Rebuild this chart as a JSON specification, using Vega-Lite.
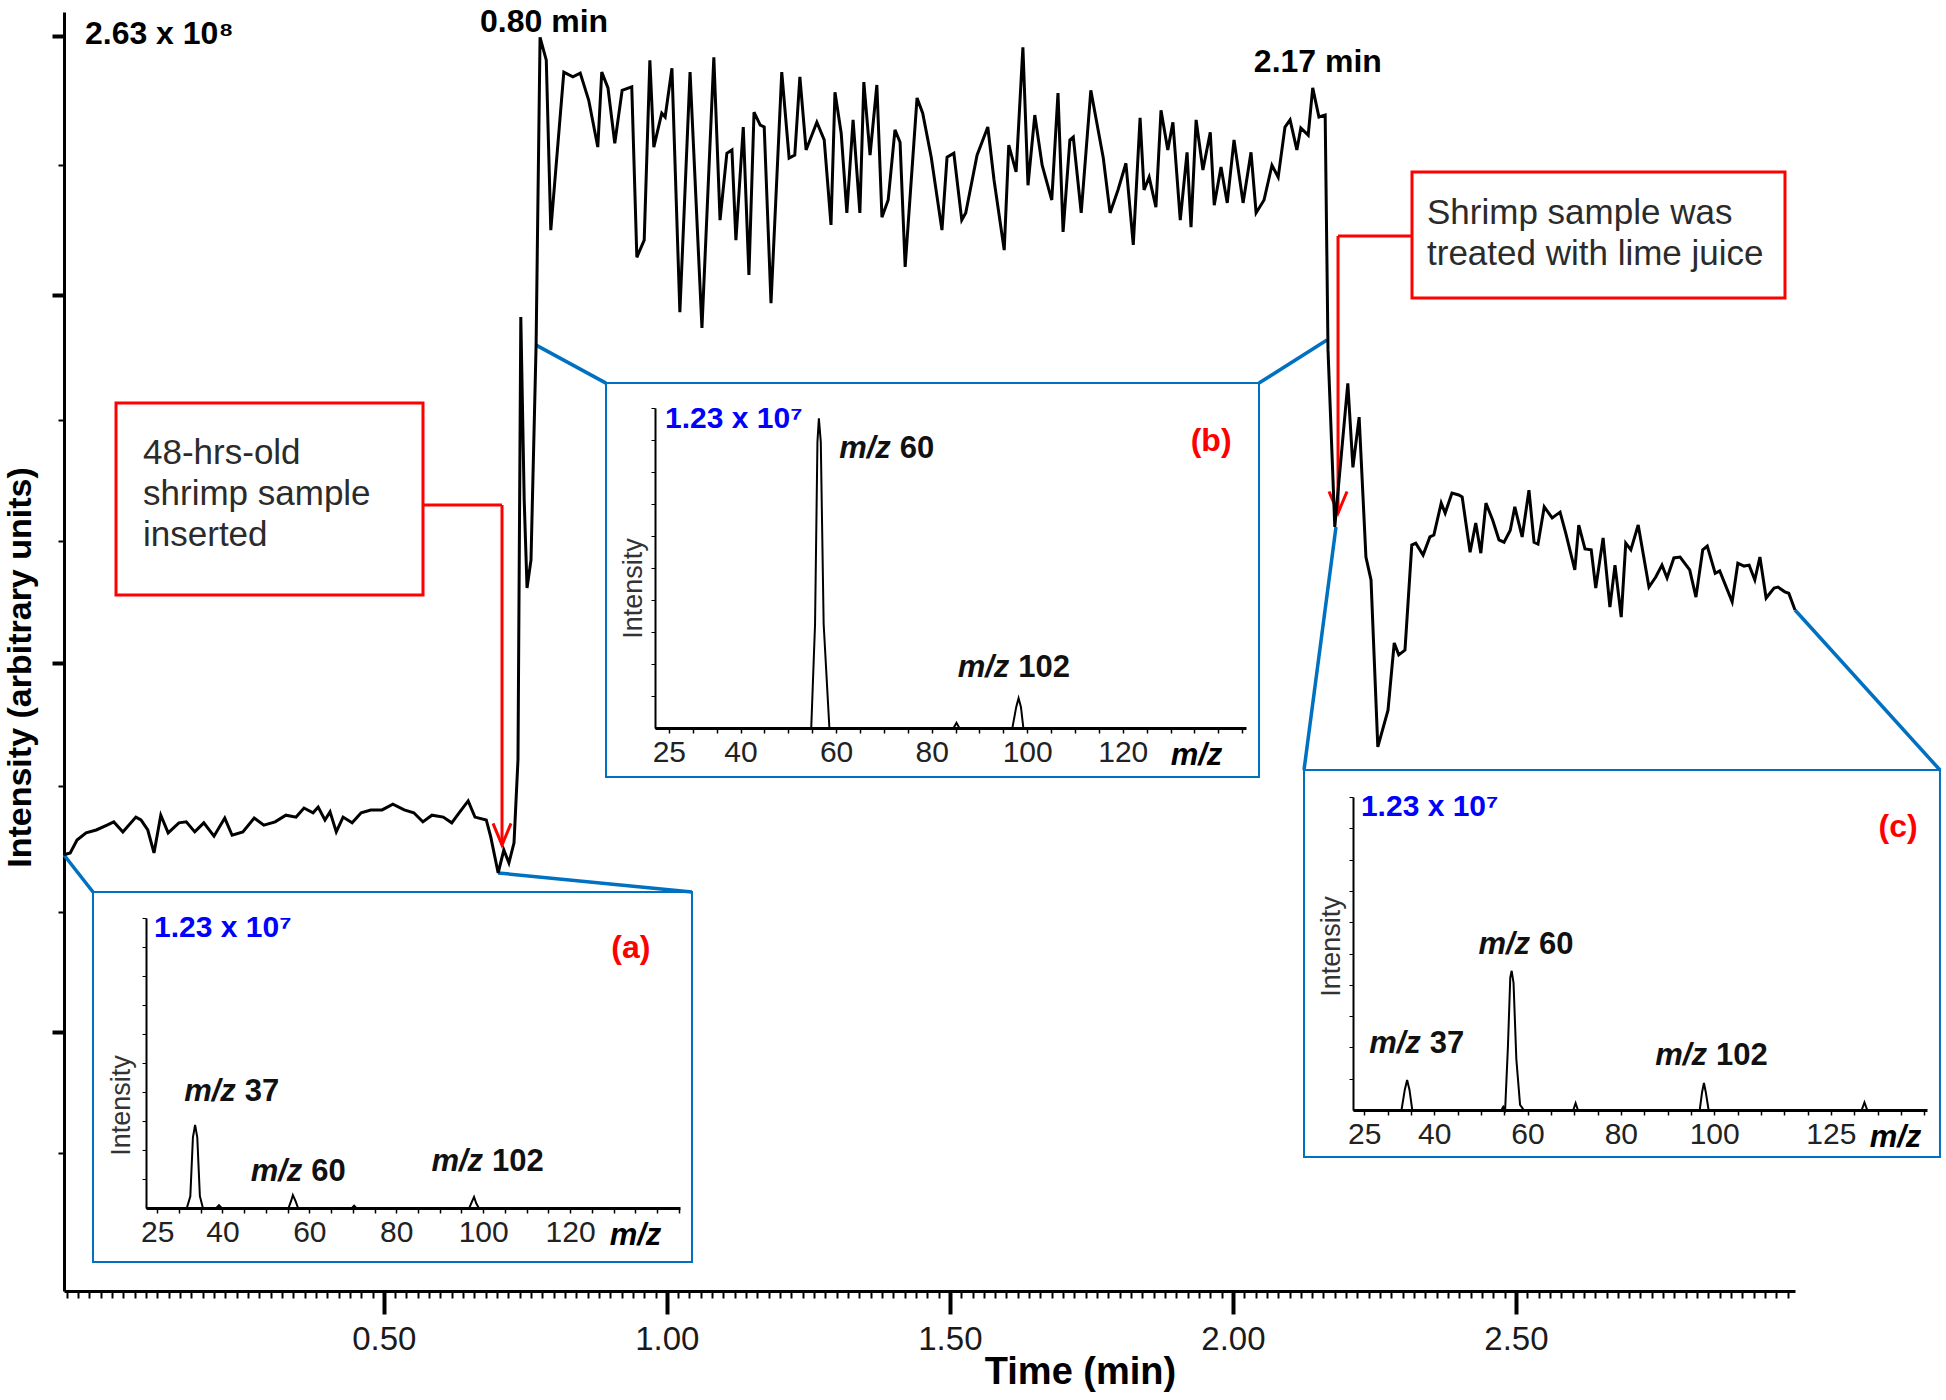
{
  "$schema": "https://vega.github.io/schema/vega-lite/v6.json",
  "width": 1731,
  "height": 1279,
  "autosize": "none",
  "padding": {"left": 64, "top": 12, "right": 151, "bottom": 109},
  "background": "white",
  "config": {"view": {"stroke": null}, "font": "Liberation Sans", "axis": {"grid": false}},
  "datasets": {
    "chromatogram": [
      {"time": -0.065, "intensity": 0.914}, {"time": -0.054, "intensity": 0.918}, {"time": -0.042, "intensity": 0.945},
      {"time": -0.026, "intensity": 0.960}, {"time": -0.008, "intensity": 0.966}, {"time": 0.011, "intensity": 0.976},
      {"time": 0.023, "intensity": 0.983}, {"time": 0.039, "intensity": 0.962}, {"time": 0.062, "intensity": 0.993},
      {"time": 0.071, "intensity": 0.987}, {"time": 0.083, "intensity": 0.966}, {"time": 0.094, "intensity": 0.918},
      {"time": 0.106, "intensity": 0.997}, {"time": 0.119, "intensity": 0.960}, {"time": 0.138, "intensity": 0.981},
      {"time": 0.151, "intensity": 0.983}, {"time": 0.166, "intensity": 0.962}, {"time": 0.182, "intensity": 0.981},
      {"time": 0.200, "intensity": 0.953}, {"time": 0.219, "intensity": 0.991}, {"time": 0.232, "intensity": 0.955},
      {"time": 0.251, "intensity": 0.962}, {"time": 0.271, "intensity": 0.991}, {"time": 0.288, "intensity": 0.976},
      {"time": 0.308, "intensity": 0.983}, {"time": 0.327, "intensity": 0.997}, {"time": 0.345, "intensity": 0.993},
      {"time": 0.359, "intensity": 1.012}, {"time": 0.375, "intensity": 1.002}, {"time": 0.384, "intensity": 1.014},
      {"time": 0.396, "intensity": 0.987}, {"time": 0.405, "intensity": 1.004}, {"time": 0.416, "intensity": 0.962},
      {"time": 0.428, "intensity": 0.993}, {"time": 0.444, "intensity": 0.981}, {"time": 0.460, "intensity": 1.002},
      {"time": 0.477, "intensity": 1.008}, {"time": 0.497, "intensity": 1.008}, {"time": 0.516, "intensity": 1.020},
      {"time": 0.536, "intensity": 1.008}, {"time": 0.553, "intensity": 1.002}, {"time": 0.569, "intensity": 0.983},
      {"time": 0.585, "intensity": 0.997}, {"time": 0.605, "intensity": 0.993}, {"time": 0.620, "intensity": 0.981},
      {"time": 0.633, "intensity": 1.002}, {"time": 0.649, "intensity": 1.027}, {"time": 0.661, "intensity": 0.993},
      {"time": 0.681, "intensity": 0.987}, {"time": 0.689, "intensity": 0.951}, {"time": 0.702, "intensity": 0.876},
      {"time": 0.712, "intensity": 0.924}, {"time": 0.721, "intensity": 0.897}, {"time": 0.730, "intensity": 0.939},
      {"time": 0.737, "intensity": 1.113}, {"time": 0.742, "intensity": 2.041}, {"time": 0.748, "intensity": 1.657},
      {"time": 0.753, "intensity": 1.473}, {"time": 0.760, "intensity": 1.532}, {"time": 0.769, "intensity": 1.982},
      {"time": 0.776, "intensity": 2.627}, {"time": 0.787, "intensity": 2.579}, {"time": 0.795, "intensity": 2.223},
      {"time": 0.818, "intensity": 2.554}, {"time": 0.834, "intensity": 2.544}, {"time": 0.847, "intensity": 2.552},
      {"time": 0.862, "intensity": 2.495}, {"time": 0.878, "intensity": 2.397}, {"time": 0.885, "intensity": 2.554},
      {"time": 0.896, "intensity": 2.521}, {"time": 0.908, "intensity": 2.405}, {"time": 0.921, "intensity": 2.516},
      {"time": 0.938, "intensity": 2.523}, {"time": 0.947, "intensity": 2.166}, {"time": 0.960, "intensity": 2.202},
      {"time": 0.970, "intensity": 2.579}, {"time": 0.977, "intensity": 2.397}, {"time": 0.991, "intensity": 2.468},
      {"time": 0.997, "intensity": 2.460}, {"time": 1.009, "intensity": 2.562}, {"time": 1.023, "intensity": 2.051},
      {"time": 1.041, "intensity": 2.554}, {"time": 1.062, "intensity": 2.018}, {"time": 1.083, "intensity": 2.585},
      {"time": 1.094, "intensity": 2.244}, {"time": 1.106, "intensity": 2.384}, {"time": 1.115, "intensity": 2.391},
      {"time": 1.122, "intensity": 2.202}, {"time": 1.135, "intensity": 2.439}, {"time": 1.145, "intensity": 2.129},
      {"time": 1.154, "intensity": 2.470}, {"time": 1.165, "intensity": 2.443}, {"time": 1.172, "intensity": 2.439},
      {"time": 1.184, "intensity": 2.070}, {"time": 1.203, "intensity": 2.554}, {"time": 1.216, "intensity": 2.374},
      {"time": 1.226, "intensity": 2.380}, {"time": 1.235, "intensity": 2.544}, {"time": 1.246, "intensity": 2.391},
      {"time": 1.265, "intensity": 2.449}, {"time": 1.278, "intensity": 2.412}, {"time": 1.290, "intensity": 2.234},
      {"time": 1.297, "intensity": 2.512}, {"time": 1.308, "intensity": 2.426}, {"time": 1.318, "intensity": 2.259},
      {"time": 1.329, "intensity": 2.454}, {"time": 1.341, "intensity": 2.259}, {"time": 1.348, "intensity": 2.533},
      {"time": 1.359, "intensity": 2.380}, {"time": 1.371, "intensity": 2.527}, {"time": 1.380, "intensity": 2.250},
      {"time": 1.391, "intensity": 2.286}, {"time": 1.403, "intensity": 2.433}, {"time": 1.412, "intensity": 2.407},
      {"time": 1.421, "intensity": 2.146}, {"time": 1.442, "intensity": 2.500}, {"time": 1.452, "intensity": 2.468},
      {"time": 1.467, "intensity": 2.376}, {"time": 1.486, "intensity": 2.223}, {"time": 1.495, "intensity": 2.376},
      {"time": 1.507, "intensity": 2.384}, {"time": 1.521, "intensity": 2.244}, {"time": 1.528, "intensity": 2.259},
      {"time": 1.548, "intensity": 2.380}, {"time": 1.567, "intensity": 2.439}, {"time": 1.578, "intensity": 2.328},
      {"time": 1.596, "intensity": 2.181}, {"time": 1.604, "intensity": 2.401}, {"time": 1.617, "intensity": 2.345},
      {"time": 1.629, "intensity": 2.606}, {"time": 1.638, "intensity": 2.317}, {"time": 1.650, "intensity": 2.464},
      {"time": 1.663, "intensity": 2.359}, {"time": 1.680, "intensity": 2.286}, {"time": 1.691, "intensity": 2.510},
      {"time": 1.700, "intensity": 2.219}, {"time": 1.712, "intensity": 2.412}, {"time": 1.718, "intensity": 2.418},
      {"time": 1.732, "intensity": 2.259}, {"time": 1.749, "intensity": 2.516}, {"time": 1.771, "intensity": 2.374},
      {"time": 1.783, "intensity": 2.259}, {"time": 1.797, "intensity": 2.307}, {"time": 1.811, "intensity": 2.363},
      {"time": 1.824, "intensity": 2.192}, {"time": 1.836, "intensity": 2.458}, {"time": 1.843, "intensity": 2.307},
      {"time": 1.852, "intensity": 2.334}, {"time": 1.864, "intensity": 2.271}, {"time": 1.873, "intensity": 2.474},
      {"time": 1.885, "intensity": 2.391}, {"time": 1.894, "intensity": 2.449}, {"time": 1.907, "intensity": 2.244},
      {"time": 1.919, "intensity": 2.386}, {"time": 1.926, "intensity": 2.229}, {"time": 1.935, "intensity": 2.454},
      {"time": 1.947, "intensity": 2.349}, {"time": 1.960, "intensity": 2.428}, {"time": 1.967, "intensity": 2.275},
      {"time": 1.979, "intensity": 2.355}, {"time": 1.990, "intensity": 2.280}, {"time": 2.002, "intensity": 2.412},
      {"time": 2.018, "intensity": 2.280}, {"time": 2.032, "intensity": 2.386}, {"time": 2.041, "intensity": 2.259},
      {"time": 2.055, "intensity": 2.286}, {"time": 2.069, "intensity": 2.359}, {"time": 2.080, "intensity": 2.334},
      {"time": 2.092, "intensity": 2.439}, {"time": 2.101, "intensity": 2.454}, {"time": 2.113, "intensity": 2.391},
      {"time": 2.120, "intensity": 2.437}, {"time": 2.133, "intensity": 2.422}, {"time": 2.141, "intensity": 2.521},
      {"time": 2.152, "intensity": 2.460}, {"time": 2.163, "intensity": 2.464}, {"time": 2.168, "intensity": 1.972},
      {"time": 2.180, "intensity": 1.601}, {"time": 2.203, "intensity": 1.902}, {"time": 2.212, "intensity": 1.726},
      {"time": 2.223, "intensity": 1.831}, {"time": 2.235, "intensity": 1.538}, {"time": 2.244, "intensity": 1.490},
      {"time": 2.256, "intensity": 1.140}, {"time": 2.274, "intensity": 1.217}, {"time": 2.285, "intensity": 1.358},
      {"time": 2.293, "intensity": 1.333}, {"time": 2.304, "intensity": 1.343}, {"time": 2.316, "intensity": 1.563},
      {"time": 2.323, "intensity": 1.567}, {"time": 2.336, "intensity": 1.542}, {"time": 2.348, "intensity": 1.580},
      {"time": 2.355, "intensity": 1.584}, {"time": 2.368, "intensity": 1.651}, {"time": 2.375, "intensity": 1.630},
      {"time": 2.387, "intensity": 1.672}, {"time": 2.399, "intensity": 1.668}, {"time": 2.405, "intensity": 1.664},
      {"time": 2.419, "intensity": 1.548}, {"time": 2.429, "intensity": 1.609}, {"time": 2.438, "intensity": 1.546},
      {"time": 2.447, "intensity": 1.651}, {"time": 2.459, "intensity": 1.615}, {"time": 2.470, "intensity": 1.574},
      {"time": 2.479, "intensity": 1.569}, {"time": 2.490, "intensity": 1.594}, {"time": 2.498, "intensity": 1.643},
      {"time": 2.511, "intensity": 1.580}, {"time": 2.523, "intensity": 1.678}, {"time": 2.532, "intensity": 1.569},
      {"time": 2.539, "intensity": 1.565}, {"time": 2.550, "intensity": 1.643}, {"time": 2.564, "intensity": 1.620},
      {"time": 2.578, "intensity": 1.632}, {"time": 2.588, "intensity": 1.588}, {"time": 2.604, "intensity": 1.511},
      {"time": 2.611, "intensity": 1.605}, {"time": 2.622, "intensity": 1.555}, {"time": 2.633, "intensity": 1.553},
      {"time": 2.641, "intensity": 1.473}, {"time": 2.654, "intensity": 1.578}, {"time": 2.666, "intensity": 1.433},
      {"time": 2.675, "intensity": 1.521}, {"time": 2.686, "intensity": 1.412}, {"time": 2.694, "intensity": 1.567},
      {"time": 2.703, "intensity": 1.553}, {"time": 2.716, "intensity": 1.605}, {"time": 2.735, "intensity": 1.475},
      {"time": 2.747, "intensity": 1.496}, {"time": 2.758, "intensity": 1.521}, {"time": 2.767, "intensity": 1.494},
      {"time": 2.779, "intensity": 1.536}, {"time": 2.790, "intensity": 1.538}, {"time": 2.802, "intensity": 1.519},
      {"time": 2.807, "intensity": 1.511}, {"time": 2.818, "intensity": 1.454}, {"time": 2.830, "intensity": 1.553},
      {"time": 2.838, "intensity": 1.561}, {"time": 2.852, "intensity": 1.504}, {"time": 2.860, "intensity": 1.509},
      {"time": 2.882, "intensity": 1.444}, {"time": 2.892, "intensity": 1.525}, {"time": 2.903, "intensity": 1.519},
      {"time": 2.912, "intensity": 1.521}, {"time": 2.922, "intensity": 1.490}, {"time": 2.931, "intensity": 1.538},
      {"time": 2.942, "intensity": 1.452}, {"time": 2.956, "intensity": 1.473}, {"time": 2.963, "intensity": 1.475},
      {"time": 2.975, "intensity": 1.465}, {"time": 2.982, "intensity": 1.462}, {"time": 2.993, "intensity": 1.427}
    ],
    "spectrumA": [
      {"mz": 22.4, "intensity": 0}, {"mz": 31.8, "intensity": 0}, {"mz": 32.6, "intensity": 0.05}, {"mz": 33.2, "intensity": 0.30},
      {"mz": 33.7, "intensity": 0.352}, {"mz": 34.2, "intensity": 0.30}, {"mz": 34.8, "intensity": 0.05}, {"mz": 35.5, "intensity": 0},
      {"mz": 38.6, "intensity": 0}, {"mz": 39.2, "intensity": 0.012}, {"mz": 39.8, "intensity": 0},
      {"mz": 55.2, "intensity": 0}, {"mz": 55.8, "intensity": 0.03}, {"mz": 56.2, "intensity": 0.055}, {"mz": 56.8, "intensity": 0.03}, {"mz": 57.4, "intensity": 0},
      {"mz": 69.8, "intensity": 0}, {"mz": 70.3, "intensity": 0.01}, {"mz": 70.8, "intensity": 0},
      {"mz": 96.8, "intensity": 0}, {"mz": 97.5, "intensity": 0.03}, {"mz": 97.9, "intensity": 0.047}, {"mz": 98.4, "intensity": 0.02}, {"mz": 99.0, "intensity": 0},
      {"mz": 145.0, "intensity": 0}
    ],
    "spectrumB": [
      {"mz": 22.1, "intensity": 0}, {"mz": 54.8, "intensity": 0}, {"mz": 55.6, "intensity": 0.4}, {"mz": 56.1, "intensity": 1.1},
      {"mz": 56.4, "intensity": 1.19}, {"mz": 56.8, "intensity": 1.1}, {"mz": 57.4, "intensity": 0.4}, {"mz": 58.6, "intensity": 0},
      {"mz": 84.6, "intensity": 0}, {"mz": 85.2, "intensity": 0.02}, {"mz": 85.8, "intensity": 0},
      {"mz": 96.9, "intensity": 0}, {"mz": 97.7, "intensity": 0.08}, {"mz": 98.2, "intensity": 0.115}, {"mz": 98.7, "intensity": 0.08}, {"mz": 99.2, "intensity": 0},
      {"mz": 145.5, "intensity": 0}
    ],
    "spectrumC": [
      {"mz": 22.6, "intensity": 0}, {"mz": 33.0, "intensity": 0}, {"mz": 33.7, "intensity": 0.08}, {"mz": 34.2, "intensity": 0.118},
      {"mz": 34.7, "intensity": 0.08}, {"mz": 35.3, "intensity": 0}, {"mz": 54.4, "intensity": 0}, {"mz": 54.8, "intensity": 0.013},
      {"mz": 55.2, "intensity": 0}, {"mz": 55.8, "intensity": 0.25}, {"mz": 56.3, "intensity": 0.52}, {"mz": 56.6, "intensity": 0.547},
      {"mz": 57.0, "intensity": 0.5}, {"mz": 57.6, "intensity": 0.2}, {"mz": 58.4, "intensity": 0.02}, {"mz": 59.2, "intensity": 0},
      {"mz": 69.8, "intensity": 0}, {"mz": 70.3, "intensity": 0.027}, {"mz": 70.8, "intensity": 0},
      {"mz": 96.9, "intensity": 0}, {"mz": 97.4, "intensity": 0.07}, {"mz": 97.8, "intensity": 0.106}, {"mz": 98.2, "intensity": 0.07}, {"mz": 98.8, "intensity": 0},
      {"mz": 131.6, "intensity": 0}, {"mz": 132.2, "intensity": 0.03}, {"mz": 132.8, "intensity": 0}, {"mz": 145.3, "intensity": 0}
    ]
  },
  "resolve": {"scale": {"x": "independent", "y": "independent"}, "axis": {"x": "independent", "y": "independent"}},
  "layer": [
    {
      "resolve": {"axis": {"x": "independent", "y": "independent"}},
      "layer": [
        {
          "data": {"values": [
            {"panel": "a", "t1": -0.0138, "t2": 1.0444, "i1": 0.0608, "i2": 0.836},
            {"panel": "b", "t1": 0.8925, "t2": 2.0461, "i1": 1.0769, "i2": 1.9024},
            {"panel": "c", "t1": 2.1256, "t2": 3.2491, "i1": 0.2808, "i2": 1.0916}
          ]},
          "mark": {"type": "rect", "filled": false, "color": "#0070c0", "strokeWidth": 2},
          "encoding": {
            "x": {"field": "t1", "type": "quantitative", "scale": {"domain": [-0.065, 2.993], "nice": false, "zero": false}, "axis": null},
            "x2": {"field": "t2"},
            "y": {"field": "i1", "type": "quantitative", "scale": {"domain": [0, 2.68], "nice": false, "zero": false}, "axis": null},
            "y2": {"field": "i2"}
          }
        },
        {
          "data": {"values": [
            {"t1": -0.065, "i1": 0.9135, "t2": -0.0138, "i2": 0.836},
            {"t1": 0.702, "i1": 0.876, "t2": 1.0444, "i2": 0.836},
            {"t1": 0.769, "i1": 1.982, "t2": 0.8925, "i2": 1.9024},
            {"t1": 2.1662, "i1": 1.9925, "t2": 2.0461, "i2": 1.9024},
            {"t1": 2.1821, "i1": 1.6007, "t2": 2.1256, "i2": 1.0916},
            {"t1": 2.993, "i1": 1.427, "t2": 3.2491, "i2": 1.0916}
          ]},
          "mark": {"type": "rule", "color": "#0070c0", "strokeWidth": 3.5},
          "encoding": {
            "x": {"field": "t1", "type": "quantitative", "scale": {"domain": [-0.065, 2.993], "nice": false, "zero": false}, "axis": null},
            "x2": {"field": "t2"},
            "y": {"field": "i1", "type": "quantitative", "scale": {"domain": [0, 2.68], "nice": false, "zero": false}, "axis": null},
            "y2": {"field": "i2"}
          }
        },
        {
          "data": {"values": [
            {"t1": 0.0269, "t2": 0.5692, "i1": 1.4583, "i2": 1.8605},
            {"t1": 2.3164, "t2": 2.9753, "i1": 2.0805, "i2": 2.3445}
          ]},
          "mark": {"type": "rect", "filled": false, "color": "#ff0000", "strokeWidth": 3},
          "encoding": {
            "x": {"field": "t1", "type": "quantitative", "scale": {"domain": [-0.065, 2.993], "nice": false, "zero": false}, "axis": null},
            "x2": {"field": "t2"},
            "y": {"field": "i1", "type": "quantitative", "scale": {"domain": [0, 2.68], "nice": false, "zero": false}, "axis": null},
            "y2": {"field": "i2"}
          }
        },
        {
          "data": {"values": [
            {"t1": 0.5692, "i1": 1.6468, "t2": 0.7088, "i2": 1.6468},
            {"t1": 0.7088, "i1": 1.6468, "t2": 0.7088, "i2": 0.9345},
            {"t1": 2.3164, "i1": 2.2104, "t2": 2.1857, "i2": 2.2104},
            {"t1": 2.1857, "i1": 2.2104, "t2": 2.1857, "i2": 1.6301}
          ]},
          "mark": {"type": "rule", "color": "#ff0000", "strokeWidth": 3},
          "encoding": {
            "x": {"field": "t1", "type": "quantitative", "scale": {"domain": [-0.065, 2.993], "nice": false, "zero": false}, "axis": null},
            "x2": {"field": "t2"},
            "y": {"field": "i1", "type": "quantitative", "scale": {"domain": [0, 2.68], "nice": false, "zero": false}, "axis": null},
            "y2": {"field": "i2"}
          }
        },
        {
          "data": {"values": [{"t": 0.7088, "i": 0.9345}, {"t": 2.1857, "i": 1.6301}]},
          "mark": {"type": "point", "shape": "M-1,-2.4L0,0L1,-2.4", "filled": false, "color": "#ff0000", "strokeWidth": 3, "size": 324, "opacity": 1},
          "encoding": {
            "x": {"field": "t", "type": "quantitative", "scale": {"domain": [-0.065, 2.993], "nice": false, "zero": false}, "axis": null},
            "y": {"field": "i", "type": "quantitative", "scale": {"domain": [0, 2.68], "nice": false, "zero": false}, "axis": null}
          }
        },
        {
          "data": {"values": [
            {"t": 0.0746, "i": 1.756, "lines": ["48-hrs-old", "shrimp sample", "inserted"]},
            {"t": 2.3429, "i": 2.259, "lines": ["Shrimp sample was", "treated with lime juice"]}
          ]},
          "mark": {"type": "text", "align": "left", "baseline": "middle", "fontSize": 35, "color": "#2b2b2b", "lineHeight": 41},
          "encoding": {
            "x": {"field": "t", "type": "quantitative", "scale": {"domain": [-0.065, 2.993], "nice": false, "zero": false}, "axis": null},
            "y": {"field": "i", "type": "quantitative", "scale": {"domain": [0, 2.68], "nice": false, "zero": false}, "axis": null},
            "text": {"field": "lines"}
          }
        },
        {
          "data": {"name": "chromatogram"},
          "mark": {"type": "point", "opacity": 0},
          "encoding": {
            "x": {"field": "time", "type": "quantitative", "scale": {"domain": [-0.065, 2.993], "nice": false, "zero": false},
              "axis": {"orient": "bottom", "tickCount": 150, "labels": false, "domain": false, "title": null, "tickSize": 7, "tickWidth": 2, "tickColor": "black", "grid": false}},
            "y": {"field": "intensity", "type": "quantitative", "scale": {"domain": [0, 2.68], "nice": false, "zero": false},
              "axis": {"orient": "left", "values": [0.289, 0.794, 1.058, 1.571, 1.825, 2.359], "labels": false, "domain": false, "title": null, "tickSize": 6, "tickWidth": 2, "tickColor": "black", "grid": false}}
          }
        },
        {
          "data": {"name": "chromatogram"},
          "mark": {"type": "line", "color": "black", "strokeWidth": 3, "strokeJoin": "miter"},
          "encoding": {
            "x": {"field": "time", "type": "quantitative", "scale": {"domain": [-0.065, 2.993], "nice": false, "zero": false},
              "axis": {"orient": "bottom", "values": [0.5, 1, 1.5, 2, 2.5], "format": ".2f", "title": "Time (min)", "titleFontSize": 38, "titleFontWeight": "bold", "titleColor": "black", "titleX": 1016, "titleY": 81, "titleBaseline": "middle", "titleAlign": "center", "labelFontSize": 33, "labelColor": "#1a1a1a", "labelPadding": 9, "labelFlush": false, "labelOverlap": false, "tickSize": 23, "tickWidth": 4, "tickColor": "black", "domainColor": "black", "domainWidth": 3, "grid": false}},
            "y": {"field": "intensity", "type": "quantitative", "scale": {"domain": [0, 2.68], "nice": false, "zero": false},
              "axis": {"orient": "left", "values": [0.543, 1.316, 2.087, 2.63], "labels": false, "title": "Intensity (arbitrary units)", "titleFontSize": 34, "titleFontWeight": "bold", "titleColor": "black", "titleX": -44, "titleY": 655, "titleBaseline": "middle", "titleAlign": "center", "titleAngle": -90, "tickSize": 12, "tickWidth": 4, "tickColor": "black", "domainColor": "black", "domainWidth": 3, "grid": false}}
          }
        },
        {
          "data": {"values": [
            {"t": -0.028, "i": 2.634, "label": "2.63 x 10⁸"},
            {"t": 0.670, "i": 2.659, "label": "0.80 min"},
            {"t": 2.037, "i": 2.575, "label": "2.17 min"}
          ]},
          "mark": {"type": "text", "align": "left", "baseline": "middle", "fontSize": 32, "fontWeight": "bold", "color": "black"},
          "encoding": {
            "x": {"field": "t", "type": "quantitative", "scale": {"domain": [-0.065, 2.993], "nice": false, "zero": false}, "axis": null},
            "y": {"field": "i", "type": "quantitative", "scale": {"domain": [0, 2.68], "nice": false, "zero": false}, "axis": null},
            "text": {"field": "label"}
          }
        }
      ]
    },
    {
      "resolve": {"axis": {"x": "independent", "y": "independent"}},
      "layer": [
        {
          "data": {"name": "spectrumA"},
          "mark": {"type": "line", "color": "black", "strokeWidth": 2},
          "encoding": {
            "x": {"field": "mz", "type": "quantitative", "scale": {"domain": [22.4, 145.3], "range": [82, 616], "nice": false, "zero": false},
              "axis": {"orient": "bottom", "offset": -83, "zindex": 1, "values": [25, 30, 35, 40, 45, 50, 55, 60, 65, 70, 75, 80, 85, 90, 95, 100, 105, 110, 115, 120, 125, 130, 135, 140, 145], "labelExpr": "indexof([25, 40, 60, 80, 100, 120], datum.value) >= 0 ? datum.label : ''", "labelFontSize": 30, "labelColor": "#222222", "labelPadding": 4, "labelOverlap": false, "labelFlush": false, "tickSize": 5, "tickWidth": 1.5, "tickColor": "black", "domainColor": "black", "domainWidth": 3, "grid": false, "title": "m/z", "titleFontSize": 31, "titleFontStyle": "italic", "titleFontWeight": "bold", "titleColor": "black", "titleX": 571, "titleY": 27, "titleBaseline": "middle", "titleAlign": "center"}},
            "y": {"field": "intensity", "type": "quantitative", "scale": {"domain": [0, 1.23], "range": [1196, 906], "nice": false, "zero": false},
              "axis": {"orient": "left", "offset": -82, "zindex": 1, "values": [0.123, 0.246, 0.369, 0.492, 0.615, 0.738, 0.861, 0.984, 1.107, 1.23], "labels": false, "tickSize": 4, "tickWidth": 1, "tickColor": "black", "domainColor": "black", "domainWidth": 2, "grid": false, "title": "Intensity", "titleFontSize": 27, "titleFontWeight": "normal", "titleColor": "#333333", "titleX": -25, "titleY": 1093, "titleBaseline": "middle", "titleAlign": "center", "titleAngle": -90}}
          }
        },
        {
          "data": {"values": [{"mz": 24.25, "intensity": 1.188, "label": "1.23 x 10⁷"}]},
          "mark": {"type": "text", "align": "left", "baseline": "middle", "fontSize": 30, "fontWeight": "bold", "color": "#0000ff"},
          "encoding": {
            "x": {"field": "mz", "type": "quantitative", "scale": {"domain": [22.4, 145.3], "range": [82, 616], "nice": false, "zero": false}, "axis": null},
            "y": {"field": "intensity", "type": "quantitative", "scale": {"domain": [0, 1.23], "range": [1196, 906], "nice": false, "zero": false}, "axis": null},
            "text": {"field": "label"}
          }
        },
        {
          "data": {"values": [{"mz": 134.0, "intensity": 1.103, "label": "(a)"}]},
          "mark": {"type": "text", "align": "center", "baseline": "middle", "fontSize": 32, "fontWeight": "bold", "color": "#ff0000"},
          "encoding": {
            "x": {"field": "mz", "type": "quantitative", "scale": {"domain": [22.4, 145.3], "range": [82, 616], "nice": false, "zero": false}, "axis": null},
            "y": {"field": "intensity", "type": "quantitative", "scale": {"domain": [0, 1.23], "range": [1196, 906], "nice": false, "zero": false}, "axis": null},
            "text": {"field": "label"}
          }
        },
        {
          "data": {"values": [{"mz": 44.0, "intensity": 0.492, "ion": "37"}, {"mz": 59.3, "intensity": 0.153, "ion": "60"}, {"mz": 100.9, "intensity": 0.195, "ion": "102"}]},
          "resolve": {"axis": {"x": "independent", "y": "independent"}},
          "layer": [
            {"mark": {"type": "text", "text": "m/z", "align": "right", "baseline": "middle", "dx": -4, "fontSize": 31, "fontWeight": "bold", "fontStyle": "italic", "color": "#111111"}},
            {"mark": {"type": "text", "align": "left", "baseline": "middle", "dx": 5, "fontSize": 31, "fontWeight": "bold", "color": "#111111"}, "encoding": {"text": {"field": "ion"}}}
          ],
          "encoding": {
            "x": {"field": "mz", "type": "quantitative", "scale": {"domain": [22.4, 145.3], "range": [82, 616], "nice": false, "zero": false}, "axis": null},
            "y": {"field": "intensity", "type": "quantitative", "scale": {"domain": [0, 1.23], "range": [1196, 906], "nice": false, "zero": false}, "axis": null}
          }
        }
      ]
    },
    {
      "resolve": {"axis": {"x": "independent", "y": "independent"}},
      "layer": [
        {
          "data": {"name": "spectrumB"},
          "mark": {"type": "line", "color": "black", "strokeWidth": 2},
          "encoding": {
            "x": {"field": "mz", "type": "quantitative", "scale": {"domain": [22.1, 145.8], "range": [591, 1182], "nice": false, "zero": false},
              "axis": {"orient": "bottom", "offset": -563, "zindex": 1, "values": [25, 30, 35, 40, 45, 50, 55, 60, 65, 70, 75, 80, 85, 90, 95, 100, 105, 110, 115, 120, 125, 130, 135, 140, 145], "labelExpr": "indexof([25, 40, 60, 80, 100, 120], datum.value) >= 0 ? datum.label : ''", "labelFontSize": 30, "labelColor": "#222222", "labelPadding": 4, "labelOverlap": false, "labelFlush": false, "tickSize": 5, "tickWidth": 1.5, "tickColor": "black", "domainColor": "black", "domainWidth": 3, "grid": false, "title": "m/z", "titleFontSize": 31, "titleFontStyle": "italic", "titleFontWeight": "bold", "titleColor": "black", "titleX": 1132, "titleY": 27, "titleBaseline": "middle", "titleAlign": "center"}},
            "y": {"field": "intensity", "type": "quantitative", "scale": {"domain": [0, 1.23], "range": [716, 396], "nice": false, "zero": false},
              "axis": {"orient": "left", "offset": -591, "zindex": 1, "values": [0.123, 0.246, 0.369, 0.492, 0.615, 0.738, 0.861, 0.984, 1.107, 1.23], "labels": false, "tickSize": 4, "tickWidth": 1, "tickColor": "black", "domainColor": "black", "domainWidth": 2, "grid": false, "title": "Intensity", "titleFontSize": 27, "titleFontWeight": "normal", "titleColor": "#333333", "titleX": -22, "titleY": 576, "titleBaseline": "middle", "titleAlign": "center", "titleAngle": -90}}
          }
        },
        {
          "data": {"values": [{"mz": 24.2, "intensity": 1.188, "label": "1.23 x 10⁷"}]},
          "mark": {"type": "text", "align": "left", "baseline": "middle", "fontSize": 30, "fontWeight": "bold", "color": "#0000ff"},
          "encoding": {
            "x": {"field": "mz", "type": "quantitative", "scale": {"domain": [22.1, 145.8], "range": [591, 1182], "nice": false, "zero": false}, "axis": null},
            "y": {"field": "intensity", "type": "quantitative", "scale": {"domain": [0, 1.23], "range": [716, 396], "nice": false, "zero": false}, "axis": null},
            "text": {"field": "label"}
          }
        },
        {
          "data": {"values": [{"mz": 138.5, "intensity": 1.103, "label": "(b)"}]},
          "mark": {"type": "text", "align": "center", "baseline": "middle", "fontSize": 32, "fontWeight": "bold", "color": "#ff0000"},
          "encoding": {
            "x": {"field": "mz", "type": "quantitative", "scale": {"domain": [22.1, 145.8], "range": [591, 1182], "nice": false, "zero": false}, "axis": null},
            "y": {"field": "intensity", "type": "quantitative", "scale": {"domain": [0, 1.23], "range": [716, 396], "nice": false, "zero": false}, "axis": null},
            "text": {"field": "label"}
          }
        },
        {
          "data": {"values": [{"mz": 72.3, "intensity": 1.072, "ion": "60"}, {"mz": 97.1, "intensity": 0.231, "ion": "102"}]},
          "resolve": {"axis": {"x": "independent", "y": "independent"}},
          "layer": [
            {"mark": {"type": "text", "text": "m/z", "align": "right", "baseline": "middle", "dx": -4, "fontSize": 31, "fontWeight": "bold", "fontStyle": "italic", "color": "#111111"}},
            {"mark": {"type": "text", "align": "left", "baseline": "middle", "dx": 5, "fontSize": 31, "fontWeight": "bold", "color": "#111111"}, "encoding": {"text": {"field": "ion"}}}
          ],
          "encoding": {
            "x": {"field": "mz", "type": "quantitative", "scale": {"domain": [22.1, 145.8], "range": [591, 1182], "nice": false, "zero": false}, "axis": null},
            "y": {"field": "intensity", "type": "quantitative", "scale": {"domain": [0, 1.23], "range": [716, 396], "nice": false, "zero": false}, "axis": null}
          }
        }
      ]
    },
    {
      "resolve": {"axis": {"x": "independent", "y": "independent"}},
      "layer": [
        {
          "data": {"name": "spectrumC"},
          "mark": {"type": "line", "color": "black", "strokeWidth": 2},
          "encoding": {
            "x": {"field": "mz", "type": "quantitative", "scale": {"domain": [22.6, 145.6], "range": [1289, 1863], "nice": false, "zero": false},
              "axis": {"orient": "bottom", "offset": -181, "zindex": 1, "values": [25, 30, 35, 40, 45, 50, 55, 60, 65, 70, 75, 80, 85, 90, 95, 100, 105, 110, 115, 120, 125, 130, 135, 140, 145], "labelExpr": "indexof([25, 40, 60, 80, 100, 125], datum.value) >= 0 ? datum.label : ''", "labelFontSize": 30, "labelColor": "#222222", "labelPadding": 4, "labelOverlap": false, "labelFlush": false, "tickSize": 5, "tickWidth": 1.5, "tickColor": "black", "domainColor": "black", "domainWidth": 3, "grid": false, "title": "m/z", "titleFontSize": 31, "titleFontStyle": "italic", "titleFontWeight": "bold", "titleColor": "black", "titleX": 1831, "titleY": 27, "titleBaseline": "middle", "titleAlign": "center"}},
            "y": {"field": "intensity", "type": "quantitative", "scale": {"domain": [0, 1.23], "range": [1098, 785], "nice": false, "zero": false},
              "axis": {"orient": "left", "offset": -1289, "zindex": 1, "values": [0.123, 0.246, 0.369, 0.492, 0.615, 0.738, 0.861, 0.984, 1.107, 1.23], "labels": false, "tickSize": 4, "tickWidth": 1, "tickColor": "black", "domainColor": "black", "domainWidth": 2, "grid": false, "title": "Intensity", "titleFontSize": 27, "titleFontWeight": "normal", "titleColor": "#333333", "titleX": -22, "titleY": 934, "titleBaseline": "middle", "titleAlign": "center", "titleAngle": -90}}
          }
        },
        {
          "data": {"values": [{"mz": 24.3, "intensity": 1.19, "label": "1.23 x 10⁷"}]},
          "mark": {"type": "text", "align": "left", "baseline": "middle", "fontSize": 30, "fontWeight": "bold", "color": "#0000ff"},
          "encoding": {
            "x": {"field": "mz", "type": "quantitative", "scale": {"domain": [22.6, 145.6], "range": [1289, 1863], "nice": false, "zero": false}, "axis": null},
            "y": {"field": "intensity", "type": "quantitative", "scale": {"domain": [0, 1.23], "range": [1098, 785], "nice": false, "zero": false}, "axis": null},
            "text": {"field": "label"}
          }
        },
        {
          "data": {"values": [{"mz": 139.4, "intensity": 1.112, "label": "(c)"}]},
          "mark": {"type": "text", "align": "center", "baseline": "middle", "fontSize": 32, "fontWeight": "bold", "color": "#ff0000"},
          "encoding": {
            "x": {"field": "mz", "type": "quantitative", "scale": {"domain": [22.6, 145.6], "range": [1289, 1863], "nice": false, "zero": false}, "axis": null},
            "y": {"field": "intensity", "type": "quantitative", "scale": {"domain": [0, 1.23], "range": [1098, 785], "nice": false, "zero": false}, "axis": null},
            "text": {"field": "label"}
          }
        },
        {
          "data": {"values": [{"mz": 38.0, "intensity": 0.259, "ion": "37"}, {"mz": 61.4, "intensity": 0.648, "ion": "60"}, {"mz": 99.3, "intensity": 0.212, "ion": "102"}]},
          "resolve": {"axis": {"x": "independent", "y": "independent"}},
          "layer": [
            {"mark": {"type": "text", "text": "m/z", "align": "right", "baseline": "middle", "dx": -4, "fontSize": 31, "fontWeight": "bold", "fontStyle": "italic", "color": "#111111"}},
            {"mark": {"type": "text", "align": "left", "baseline": "middle", "dx": 5, "fontSize": 31, "fontWeight": "bold", "color": "#111111"}, "encoding": {"text": {"field": "ion"}}}
          ],
          "encoding": {
            "x": {"field": "mz", "type": "quantitative", "scale": {"domain": [22.6, 145.6], "range": [1289, 1863], "nice": false, "zero": false}, "axis": null},
            "y": {"field": "intensity", "type": "quantitative", "scale": {"domain": [0, 1.23], "range": [1098, 785], "nice": false, "zero": false}, "axis": null}
          }
        }
      ]
    }
  ]
}
